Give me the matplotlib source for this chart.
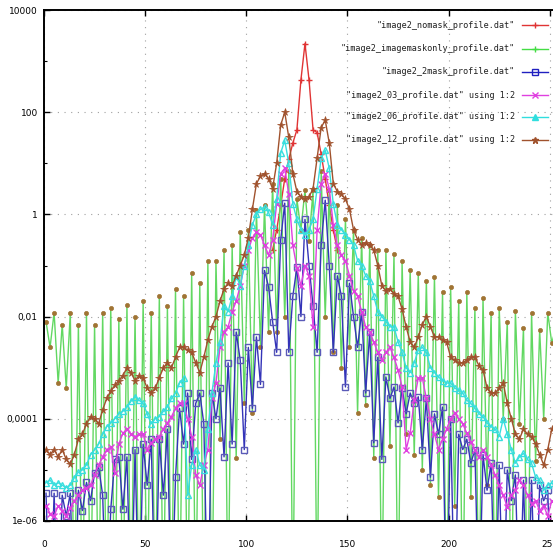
import matplotlib
matplotlib.use("Agg")
import matplotlib.pyplot as plt
from matplotlib.lines import Line2D
from matplotlib.ticker import NullFormatter

# radial profiles sampled on every other pixel column
x = list(range(1, 256, 2))
red_x = list(range(113, 147, 2))

nomask = [0.2, 0.5, 1.5, 5.0, 12.0, 25.0, 45.0, 430.0, 2200.0, 430.0, 45.0, 40.0, 15.0, 5.0, 1.5, 0.5, 0.2]

imagemaskonly = [
    0.008, 2.5e-3, 0.012, 5e-4, 0.007, 4e-4, 0.012, 1e-8, 0.007, 1e-8, 0.012, 1e-8, 0.007, 1e-8, 0.012, 1e-8,
    0.015, 1e-8, 0.009, 1e-8, 0.017, 1e-8, 0.01, 1e-8, 0.02, 1e-8, 0.012, 1e-8, 0.025, 1e-8, 0.016, 1e-8,
    0.035, 1e-8, 0.025, 1e-8, 0.07, 1e-8, 0.045, 1e-8, 0.12, 1e-8, 0.12, 4e-5, 0.2, 1e-8, 0.25, 1.7e-5,
    0.45, 2e-4, 0.5, 1.3e-4, 1.2, 2.5e-3, 1.5, 5e-3, 4.0, 5e-3, 5.0, 0.01, 7.0, 1e-8, 2.0, 0.5,
    3.0, 0.3, 3.0, 1e-8, 7.0, 0.01, 3.0, 2e-3, 1.5, 1e-3, 0.8, 2.5e-3, 0.5, 1.3e-4, 0.35, 1.9e-4,
    0.25, 1.7e-5, 0.2, 1e-8, 0.2, 3e-5, 0.17, 1e-8, 0.12, 5e-5, 0.08, 2e-5, 0.07, 1e-5, 0.05, 5e-6,
    0.06, 3e-6, 0.03, 1e-8, 0.038, 2e-6, 0.02, 1e-8, 0.03, 3e-6, 0.015, 1e-8, 0.023, 5e-6, 0.012, 1e-8,
    0.015, 1e-4, 0.008, 1e-8, 0.013, 8e-5, 0.006, 1e-8, 0.012, 1.5e-5, 0.0055, 1e-4, 0.012, 3e-3, 0.006, 5e-4,
]

twomask = [
    3.5e-6, 1e-8, 3.5e-6, 1e-8, 3.2e-6, 1.25e-6, 3.5e-6, 1e-8, 4e-6, 1.6e-6, 5.7e-6, 2.5e-6, 8.7e-6, 1.15e-5, 3.2e-6, 1e-8,
    1.7e-6, 1.6e-5, 1.8e-5, 1.7e-6, 1.8e-5, 1e-8, 2.5e-5, 1e-8, 3.2e-5, 5e-6, 4e-5, 1e-8, 4e-5, 3.2e-6, 6.3e-5, 1e-8,
    7.2e-6, 1.6e-4, 3.2e-5, 3.2e-4, 1.6e-5, 2e-4, 3.2e-4, 8e-5, 1e-8, 3.2e-4, 1e-4, 4e-4, 1.8e-5, 1.25e-3, 3.2e-5, 5e-3,
    1.4e-3, 2.5e-5, 2.5e-3, 1.6e-4, 4e-3, 4.7e-4, 0.08, 0.038, 8e-3, 2e-3, 0.32, 1.66, 2e-3, 0.025, 0.093, 0.01,
    0.8, 0.1, 0.016, 2e-3, 0.25, 1.9, 0.1, 2e-3, 0.063, 0.025, 4.2e-4, 0.045, 0.01, 2.5e-3, 0.0125, 3.2e-4,
    5e-3, 3.4e-5, 1.6e-3, 1.6e-5, 6.6e-4, 2.5e-4, 4.2e-4, 8.3e-5, 4e-4, 1.25e-4, 3.2e-4, 2e-4, 2.7e-4, 2.5e-5, 2.5e-4, 7.2e-6,
    1.25e-4, 5e-5, 1.7e-4, 1e-8, 1e-4, 1e-8, 5e-5, 2.5e-5, 4e-5, 1.35e-5, 2.5e-5, 1e-8, 2e-5, 4e-6, 1.35e-5, 1e-8,
    1.25e-5, 1e-8, 1e-5, 2.5e-6, 8e-6, 1e-8, 6.3e-6, 1e-8, 6.3e-6, 1e-8, 5e-6, 2.5e-6, 4e-6, 1e-8, 5e-6, 1e-8,
]

profile_03 = [
    2e-6, 1.4e-6, 1.25e-6, 2e-6, 1.6e-6, 1.25e-6, 1.8e-6, 2.5e-6, 3.2e-6, 4e-6, 4.5e-6, 5e-6, 8e-6, 1.25e-5, 1.8e-5, 2.5e-5,
    2.8e-5, 8.7e-6, 3.2e-5, 5.2e-5, 6.3e-5, 5e-5, 4.5e-5, 5e-5, 5e-5, 2.5e-5, 3.4e-5, 4e-5, 4.5e-5, 6.3e-5, 8.3e-5, 1.1e-4,
    1.6e-4, 2e-4, 2e-4, 1e-4, 4.5e-5, 8e-6, 5e-6, 1.25e-5, 2.5e-5, 2.5e-4, 5e-4, 2.5e-3, 5e-3, 6.3e-3, 0.0125, 0.02,
    0.04, 0.1, 0.2, 0.35, 0.45, 0.4, 0.25, 0.16, 0.32, 1.6, 6.3, 8.0, 2.5, 0.25, 0.09, 0.04,
    0.1, 0.063, 6.3e-3, 0.5, 4.0, 6.3, 3.2, 0.63, 0.25, 0.16, 0.125, 0.063, 0.032, 0.025, 0.0125, 6.3e-3,
    5e-3, 3.2e-3, 2e-3, 1.4e-3, 2e-3, 2.5e-3, 1.6e-3, 9e-4, 4.2e-4, 2.5e-5, 5.2e-5, 2.3e-4, 6.3e-4, 6.3e-4, 2.5e-4, 1e-4,
    5e-5, 2.5e-5, 4e-5, 6.3e-5, 1e-4, 1.3e-4, 1e-4, 8e-5, 5.2e-5, 3.5e-5, 2.5e-5, 1.8e-5, 2.5e-5, 1.8e-5, 1.25e-5, 8e-6,
    5e-6, 3.2e-6, 1.9e-6, 3.2e-6, 4e-6, 6.3e-6, 5e-6, 3.2e-6, 2.2e-6, 2.5e-6, 1.6e-6, 2e-6, 1.25e-6, 2.5e-6, 2e-6, 1.6e-6,
]

profile_06 = [
    5.6e-6, 6.3e-6, 5e-6, 5.6e-6, 5e-6, 4.5e-6, 5e-6, 7e-6, 9e-6, 1e-5, 1.25e-5, 2e-5, 2.5e-5, 3.2e-5, 5e-5, 7e-5,
    8.3e-5, 1e-4, 1.25e-4, 1.4e-4, 1.7e-4, 2.2e-4, 2.7e-4, 2.3e-4, 2e-4, 1.25e-4, 8e-5, 1e-4, 1.1e-4, 1.4e-4, 1.7e-4, 2.5e-4,
    3.2e-4, 5e-4, 6.3e-4, 3.2e-6, 1.25e-5, 2.5e-5, 1.25e-5, 1e-5, 6.3e-5, 3.2e-4, 1.25e-3, 3.2e-3, 0.016, 0.0125, 0.025, 0.063,
    0.04, 0.1, 0.25, 0.63, 1.0, 1.26, 1.4, 1.1, 0.63, 2.0, 16.0, 28.0, 10.0, 1.6, 0.8, 0.5,
    0.4, 0.5, 0.8, 3.2, 12.6, 18.0, 8.0, 1.6, 0.63, 0.5, 0.4, 0.32, 0.25, 0.125, 0.1, 0.063,
    0.05, 0.025, 0.0125, 0.01, 8e-3, 6.3e-3, 6.3e-3, 3.2e-3, 2e-3, 1e-3, 8e-4, 1.25e-3, 2.2e-3, 2.5e-3, 2e-3, 1e-3,
    8e-4, 6.6e-4, 5.6e-4, 5e-4, 5e-4, 4e-4, 3.6e-4, 3.2e-4, 2.3e-4, 2e-4, 1.6e-4, 1.25e-4, 1.1e-4, 8.3e-5, 7e-5, 6.3e-5,
    4.5e-5, 1e-4, 5e-5, 2.5e-5, 1.35e-5, 1.8e-5, 2.1e-5, 1.6e-5, 1.35e-5, 7.2e-6, 6.3e-6, 4e-6, 5e-6, 5.6e-6, 4.5e-6, 4e-6,
]

profile_12 = [
    2.5e-5, 2e-5, 2.5e-5, 1.8e-5, 2.5e-5, 1.6e-5, 1.3e-5, 2e-5, 4e-5, 5e-5, 8e-5, 1.1e-4, 1e-4, 8e-5, 1.5e-4, 2.5e-4,
    3.5e-4, 4.5e-4, 5.6e-4, 7e-4, 1e-3, 8e-4, 5.6e-4, 7e-4, 6.3e-4, 4e-4, 3.2e-4, 4e-4, 6.3e-4, 1e-3, 1.25e-3, 1e-3,
    1.6e-3, 2.5e-3, 2.5e-3, 2.2e-3, 2e-3, 1.25e-3, 8e-4, 1.6e-3, 3.5e-3, 6.3e-3, 0.01, 0.02, 0.035, 0.045, 0.04, 0.063,
    0.1, 0.16, 0.35, 1.26, 4.0, 5.6, 6.3, 5.0, 3.2, 10.0, 56.0, 100.0, 32.0, 6.3, 2.8, 2.2,
    2.0, 2.2, 3.2, 12.6, 50.0, 70.0, 25.0, 4.0, 2.8, 2.5, 2.0, 1.26, 0.5, 0.32, 0.25, 0.28,
    0.25, 0.2, 0.1, 0.04, 0.032, 0.035, 0.028, 0.025, 0.014, 6.3e-3, 3.2e-3, 2.5e-3, 4e-3, 7e-3, 0.01, 6.3e-3,
    4e-3, 4e-3, 3.5e-3, 3.2e-3, 1.6e-3, 1.4e-3, 1.25e-3, 1.25e-3, 1.4e-3, 1.6e-3, 1.6e-3, 1.1e-3, 9e-4, 4e-4, 3.2e-4, 3.2e-4,
    4e-4, 5e-4, 2e-4, 1e-4, 5e-5, 4e-5, 6.3e-5, 5e-5, 4.5e-5, 3.2e-5, 2e-5, 1.25e-5, 2.5e-5, 6.3e-5, 5e-5, 3.2e-5,
]

labels = [
    '"image2_nomask_profile.dat"',
    '"image2_imagemaskonly_profile.dat"',
    '"image2_2mask_profile.dat"',
    '"image2_03_profile.dat" using 1:2',
    '"image2_06_profile.dat" using 1:2',
    '"image2_12_profile.dat" using 1:2',
]

y_ticks = [1e-6, 1e-4, 1e-2, 1, 100, 1e4]
y_tick_labels = ["1e-06", "0,0001", "0,01", "1", "100", "10000"]
x_ticks = [0, 50, 100, 150, 200, 250]

# line + point style on the plot, and the matching sample in the key
styles = [
    dict(color="#e03434", marker="+", ms=5, mew=1.0),
    dict(color="#62d862", marker="o", ms=3, mfc="#a07434", mec="#a07434", mew=0.5),
    dict(color="#3434b8", marker="s", ms=4.5, mfc="none", mec="#5a5ab8", mew=1.0),
    dict(color="#e040e0", marker="x", ms=4, mew=1.0),
    dict(color="#38dede", marker="^", ms=4.5, mfc="none", mew=1.0),
    dict(color="#a0522d", marker="*", ms=5.5, mew=0.5),
]
key_styles = [
    dict(color="#e03434", marker="+", ms=5),
    dict(color="#44dd44", marker="+", ms=5),
    dict(color="#2020c0", marker="s", ms=4.5, mfc="none"),
    dict(color="#e040e0", marker="x", ms=4),
    dict(color="#30dede", marker="^", ms=4.5),
    dict(color="#a0522d", marker="*", ms=5),
]

W, H = 553, 552

fig = plt.figure(figsize=(W / 100, H / 100), dpi=100)
ax = fig.add_axes([44 / W, 31 / H, 526 / W, 511 / H])

series = [
    (red_x, nomask),
    (x, imagemaskonly),
    (x, twomask),
    (x, profile_03),
    (x, profile_06),
    (x, profile_12),
]
for (xs, ys), style in zip(series, styles):
    ax.plot(xs, ys, lw=1.0, **style)

ax.set_yscale("log")
ax.set_xlim(0, 260)
ax.set_ylim(1e-6, 1e4)

ax.set_yticks(y_ticks, labels=y_tick_labels)
ax.set_yticks([1e-5, 1e-3, 1e-1, 10, 1000], minor=True)
ax.yaxis.set_minor_formatter(NullFormatter())
ax.set_xticks(x_ticks)
ax.xaxis.set_minor_locator(plt.NullLocator())

ax.tick_params(which="both", direction="in", top=True, right=True,
               labelsize=6.5, color="black")
ax.tick_params(which="major", length=4, width=1.0)
ax.tick_params(which="minor", length=2.5, width=0.8)
ax.tick_params(axis="y", pad=4.5)
ax.tick_params(axis="x", pad=14)

ax.grid(which="major", color="#a0a0a0", linestyle=(0, (1, 5)), linewidth=0.8)
for spine in ax.spines.values():
    spine.set_linewidth(1.4)

# key in the top right corner, text right-aligned before the sample line
key_rows = [25, 48.5, 71.5, 95, 117, 139.5]
for label, row, style in zip(labels, key_rows, key_styles):
    fy = 1 - row / H
    fig.text(515 / W, fy, label, ha="right", va="center",
             fontsize=6.1, family="DejaVu Sans Mono", color="#202020")
    fig.add_artist(Line2D([522 / W, 548 / W], [fy, fy], lw=1.0,
                          color=style["color"], transform=fig.transFigure))
    fig.add_artist(Line2D([535 / W], [fy], lw=0, transform=fig.transFigure,
                          **style))

fig.savefig("out.png", dpi=100)
